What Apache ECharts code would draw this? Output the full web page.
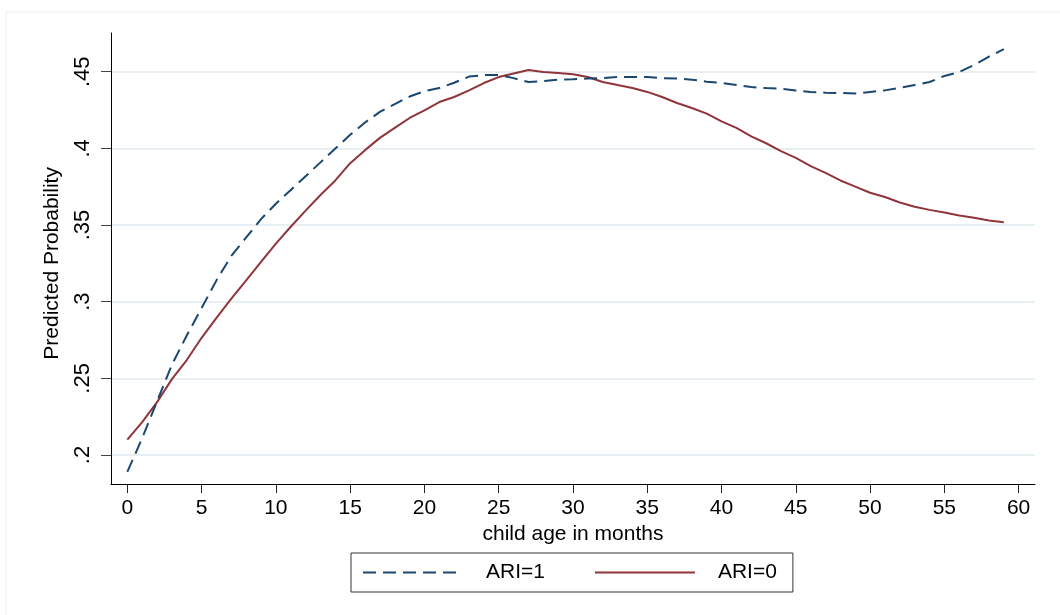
<!DOCTYPE html>
<html>
<head>
<meta charset="utf-8">
<title>Predicted Probability by child age</title>
<script src="https://cdn.jsdelivr.net/npm/echarts@6/dist/echarts.min.js"></script>
<style>
    html, body {margin: 0; padding: 0; background: #fff;}
    #chart {width: 1060px; height: 615px;}
</style>
</head>
<body>
<div id="chart"></div>
<script>
    // child age in months
    var months = [0, 1, 2, 3, 4, 5, 6, 7, 8, 9, 10, 11, 12, 13, 14, 15, 16, 17, 18, 19,
        20, 21, 22, 23, 24, 25, 26, 27, 28, 29, 30, 31, 32, 33, 34, 35, 36, 37, 38, 39,
        40, 41, 42, 43, 44, 45, 46, 47, 48, 49, 50, 51, 52, 53, 54, 55, 56, 57, 58, 59];

    // predicted probability, ARI=1
    var ari1 = [0.189, 0.211, 0.235, 0.259, 0.278, 0.296, 0.314, 0.330, 0.342, 0.354,
        0.364, 0.373, 0.382, 0.391, 0.400, 0.409, 0.417, 0.424, 0.429, 0.434,
        0.4375, 0.4395, 0.443, 0.447, 0.448, 0.448, 0.446, 0.4435, 0.444, 0.445,
        0.4453, 0.4457, 0.446, 0.4467, 0.4468, 0.4468, 0.446, 0.4457, 0.445, 0.4437,
        0.4428, 0.4415, 0.4402, 0.4395, 0.439, 0.438, 0.437, 0.4365, 0.4363, 0.436,
        0.437, 0.438, 0.4396, 0.4415, 0.4435, 0.4474, 0.450, 0.4546, 0.460, 0.465];

    // predicted probability, ARI=0
    var ari0 = [0.210, 0.2215, 0.2345, 0.2495, 0.262, 0.2765, 0.2895, 0.302, 0.314, 0.326,
        0.338, 0.349, 0.3595, 0.3697, 0.3792, 0.3905, 0.399, 0.407, 0.4135, 0.420,
        0.425, 0.4304, 0.4337, 0.438, 0.4428, 0.4467, 0.449, 0.4513, 0.450, 0.4493,
        0.4485, 0.4467, 0.4435, 0.4415, 0.4396, 0.437, 0.4337, 0.4298, 0.4265, 0.4228,
        0.4178, 0.4135, 0.408, 0.4035, 0.3984, 0.3939, 0.3886, 0.3842, 0.3792, 0.3752,
        0.3712, 0.3684, 0.3648, 0.362, 0.360, 0.3583, 0.3563, 0.3548, 0.353, 0.352];

    var xTickMin = 0, xTickMax = 60, xTickStep = 5;
    var yTickMin = 0.2, yTickMax = 0.45, yTickStep = 0.05;

    var font = 'Liberation Sans, Arial, sans-serif';
    var blue = '#1a476f';
    var red = '#90353b';

    var pairs = function (ys) {
        return months.map(function (m, i) {
            return [m, ys[i]];
        });
    };

    var option = {
        backgroundColor: '#fff',
        animation: false,
        textStyle: {fontFamily: font, color: '#000'},
        graphic: [{
            type: 'rect',
            shape: {x: 6, y: 12, width: 1100, height: 700},
            style: {fill: 'none', stroke: '#ececec', lineWidth: 1},
            silent: true,
            z: -1
        }],
        grid: [
            // frame + data
            {left: 111, top: 33, width: 924, height: 451},
            // y labels and grid lines
            {left: 111, top: 71.7, width: 924, height: 383.3},
            // x labels
            {left: 127.3, top: 33, width: 891.3, height: 451}
        ],
        xAxis: [{
            gridIndex: 0,
            type: 'value',
            min: -1.1,
            max: 61.1,
            axisLine: {show: true, onZero: false, lineStyle: {color: '#000', width: 1}},
            axisTick: {show: false},
            axisLabel: {show: false},
            splitLine: {show: false}
        }, {
            gridIndex: 1,
            type: 'value',
            show: false
        }, {
            gridIndex: 2,
            type: 'value',
            min: xTickMin,
            max: xTickMax,
            interval: xTickStep,
            axisLine: {show: false, onZero: false},
            axisTick: {show: true, length: 9, lineStyle: {color: '#222'}},
            axisLabel: {fontSize: 21, margin: 14, color: '#000', fontFamily: font},
            splitLine: {show: false},
            name: 'child age in months',
            nameLocation: 'middle',
            nameGap: 33,
            nameTextStyle: {fontSize: 21, color: '#000', fontFamily: font}
        }],
        yAxis: [{
            gridIndex: 0,
            type: 'value',
            min: 0.18107,
            max: 0.47546,
            axisLine: {show: true, onZero: false, lineStyle: {color: '#000', width: 1}},
            axisTick: {show: false},
            axisLabel: {show: false},
            splitLine: {show: false}
        }, {
            gridIndex: 1,
            type: 'value',
            min: yTickMin,
            max: yTickMax,
            interval: yTickStep,
            axisLine: {show: false, onZero: false},
            axisTick: {show: true, length: 10, lineStyle: {color: '#444'}},
            axisLabel: {
                fontSize: 22,
                rotate: 90,
                margin: 17,
                color: '#000',
                fontFamily: font,
                formatter: function (v) {
                    return String(+v.toFixed(2)).replace(/^0/, '');
                }
            },
            splitLine: {show: true, lineStyle: {color: '#e8eff2', width: 2}},
            name: 'Predicted Probability',
            nameLocation: 'middle',
            nameGap: 48,
            nameTextStyle: {fontSize: 21, color: '#000', fontFamily: font}
        }, {
            gridIndex: 2,
            type: 'value',
            show: false
        }],
        legend: {
            left: 351,
            top: 553,
            padding: [9, 16, 9, 11],
            itemWidth: 100,
            itemHeight: 18,
            itemGap: 49,
            borderColor: '#333',
            borderWidth: 1,
            itemStyle: {opacity: 0},
            textStyle: {fontSize: 21, color: '#000', fontFamily: font, padding: [0, 7, 0, 18]},
            data: ['ARI=1', 'ARI=0']
        },
        series: [{
            name: 'ARI=1',
            type: 'line',
            xAxisIndex: 0,
            yAxisIndex: 0,
            data: pairs(ari1),
            symbol: 'none',
            lineStyle: {color: blue, width: 2, type: [13, 7]},
            itemStyle: {color: blue},
            z: 3
        }, {
            name: 'ARI=0',
            type: 'line',
            xAxisIndex: 0,
            yAxisIndex: 0,
            data: pairs(ari0),
            symbol: 'none',
            lineStyle: {color: red, width: 2},
            itemStyle: {color: red},
            z: 2
        }]
    };

    var chart = echarts.init(document.getElementById('chart'), null, {renderer: 'canvas'});
    chart.setOption(option);
</script>
</body>
</html>
